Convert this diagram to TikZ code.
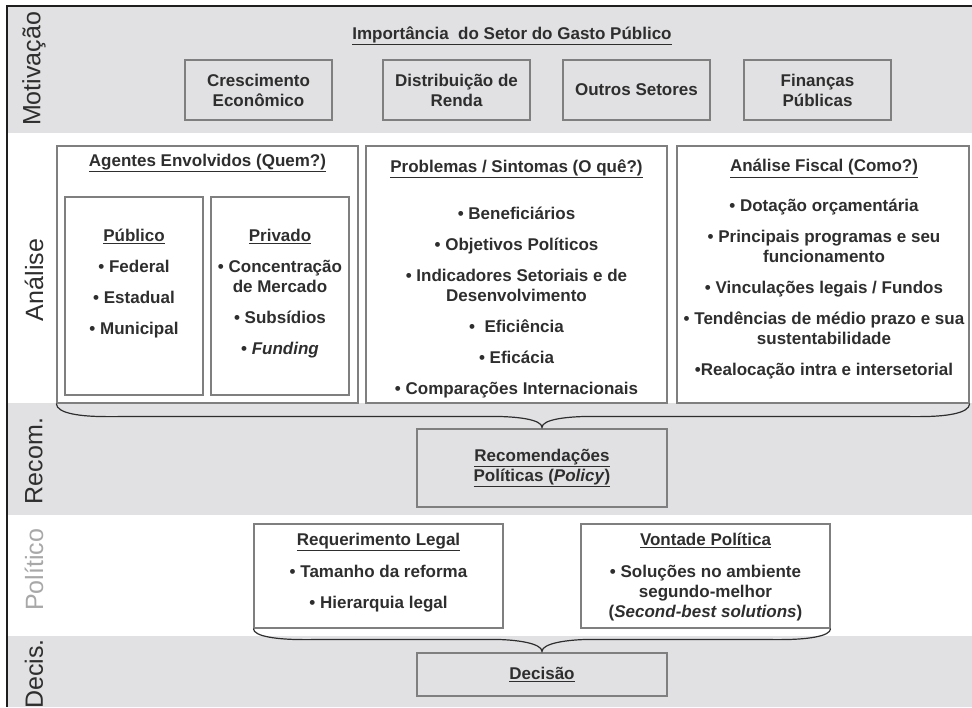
\documentclass[tikz,border=0pt]{standalone}
\usepackage{fontspec}
\setmainfont{Liberation Sans}
\usetikzlibrary{calc}

\definecolor{band color}{HTML}{E1E1E3}
\definecolor{ink}{HTML}{2E2E2E}
\definecolor{box border}{HTML}{7F7F7F}
\definecolor{frame color}{HTML}{1E1E1E}
\definecolor{faint label}{HTML}{A8A8A8}
\tikzset{
    x={1pt},
    y={-1pt},
    band/.style={
        fill=band color,
        draw=none,
    },
    frame line/.style={
        draw=frame color,
        line width={1.5pt},
    },
    stage label/.style={
        rotate=90,
        font={\fontsize{25}{30}\selectfont},
        text={#1},
        inner sep=0pt,
    },
    stage label/.default={ink},
    topic text/.style={
        align=center,
        font={\fontsize{17}{20}\selectfont\bfseries},
        text=ink,
        inner sep=0pt,
    },
    topic box/.style 2 args={
        topic text,
        draw=box border,
        line width={1.2pt},
        minimum width={#1},
        minimum height={#2},
    },
    brace line/.style={
        draw=ink,
        line width={1.2pt},
    },
}

\begin{document}
\begin{tikzpicture}
\useasboundingbox (0,0) rectangle (972,707);
% bands
\path[band] (7,6) rectangle (972,133);
\path[band] (7,403) rectangle (972,515);
\path[band] (7,636) rectangle (972,707);
\path[frame line] (972,6) -- (7,6) -- (7,707);
% stage labels
\node[stage label] (motivation label) at (34,69) {Motivação};
\node[stage label] (analysis label) at (34,280) {Análise};
\node[stage label] (recom label) at (34,461) {Recom.};
\node[stage label={faint label}] (politics label) at (34,570) {Político};
\node[stage label] (decision label) at (34,674) {Decis.};
% motivation
\node[topic text] (motivation title) at (512,36) {\underline{Importância\ \ do Setor do Gasto Público}};
\node[topic box={147}{60}] (growth) at (258.5,90) {Crescimento\\Econômico};
\node[topic box={147}{60}] (income) at (456.5,90) {Distribuição de\\Renda};
\node[topic box={147}{60}] (sectors) at (636.5,90) {Outros Setores};
\node[topic box={147}{60}] (finance) at (817.5,90) {Finanças\\Públicas};
% analysis
\node[topic box={301}{257}] (agents) at (207.5,274.5) {};
\node[topic text] (agents title) at (207.5,163) {\underline{Agentes Envolvidos (Quem?)}};
\node[topic box={138}{198}] (public) at (134,296) {};
\node[topic text] (public list) at (134,283.5) {\underline{Público}\\[11pt]• Federal\\[11pt]• Estadual\\[11pt]• Municipal};
\node[topic box={138}{198}] (private) at (280,296) {};
\node[topic text] (private list) at (280,293.5) {\underline{Privado}\\[11pt]• Concentração\\de Mercado\\[11pt]• Subsídios\\[11pt]• \textit{Funding}};
\node[topic box={301}{257}] (problems) at (516.5,274.5) {};
\node[topic text] (problems list) at (516.5,279) {\underline{Problemas / Sintomas (O quê?)}\\[27pt]• Beneficiários\\[11pt]• Objetivos Políticos\\[11pt]• Indicadores Setoriais e de\\Desenvolvimento\\[11pt]•\ \ Eficiência\\[11pt]• Eficácia\\[11pt]• Comparações Internacionais};
\node[topic box={292}{257}] (fiscal) at (823,274.5) {};
\node[topic text] (fiscal list) at (824,269.5) {\underline{Análise Fiscal (Como?)}\\[20pt]• Dotação orçamentária\\[11pt]• Principais programas e seu\\funcionamento\\[11pt]• Vinculações legais / Fundos\\[11pt]• Tendências de médio prazo e sua\\sustentabilidade\\[11pt]•Realocação intra e intersetorial};
% recommendation
\node[topic box={250}{78}] (recom) at (542,468) {\underline{Recomendações}\\\underline{Políticas (\textit{Policy})}};
\coordinate (recom tip) at ([yshift=1pt]recom.north);
\path[brace line] (agents.south west)
    .. controls +(0,10) and +(-25,0) .. ($(agents.south west)+(50,13)$)
    -- ($(recom.north)+(-50,-12)$)
    .. controls +(25,0) and +(0,-8) .. (recom tip)
    .. controls +(0,-8) and +(-25,0) .. ($(recom.north)+(50,-12)$)
    -- ($(fiscal.south east)+(-50,13)$)
    .. controls +(25,0) and +(0,10) .. (fiscal.south east);
% politics
\node[topic box={249}{104}] (legal) at (378.5,576) {};
\node[topic text] (legal list) at (378.5,572.5) {\underline{Requerimento Legal}\\[12pt]• Tamanho da reforma\\[11pt]• Hierarquia legal};
\node[topic box={249}{104}] (will) at (705.5,576) {};
\node[topic text] (will list) at (705.5,577.5) {\underline{Vontade Política}\\[12pt]• Soluções no ambiente\\segundo-melhor\\(\textit{Second-best solutions})};
% decision
\node[topic box={250}{43}] (decision) at (542,674.5) {\underline{Decisão}};
\coordinate (decision tip) at ([yshift=1pt]decision.north);
\path[brace line] (legal.south west)
    .. controls +(0,8) and +(-25,0) .. ($(legal.south west)+(50,11)$)
    -- ($(decision.north)+(-50,-13)$)
    .. controls +(25,0) and +(0,-8) .. (decision tip)
    .. controls +(0,-8) and +(-25,0) .. ($(decision.north)+(50,-13)$)
    -- ($(will.south east)+(-50,11)$)
    .. controls +(25,0) and +(0,8) .. (will.south east);
\end{tikzpicture}
\end{document}
